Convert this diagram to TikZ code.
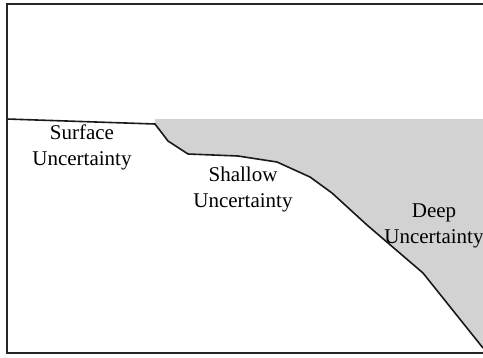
\documentclass[tikz,border=0pt]{standalone}
\usepackage{fontspec}
\setmainfont{Liberation Serif}
\usetikzlibrary{positioning}

\tikzset{
  zone/.style={align=center, font=\fontsize{21}{26}\selectfont, inner sep=0pt},
  frameline/.style={line width=2pt, black!85},
  boundary/.style={line width=1.6pt, black!90, line join=round}
}

\begin{document}
\begin{tikzpicture}[x=1pt, y=-1pt]
  \useasboundingbox (0,0) rectangle (483,357);
  % shaded region above the boundary
  \fill[gray!35] (155,119) -- (155,124) -- (168,141) -- (188,154) -- (238,156)
    -- (277,162) -- (310,177) -- (332,193) -- (367,225) -- (423,273)
    -- (483,348) -- (483,119) -- cycle;
  % boundary between the zones
  \draw[boundary] (7,119) -- (155,124) -- (168,141) -- (188,154) -- (238,156)
    -- (277,162) -- (310,177) -- (332,193) -- (367,225) -- (423,273) -- (483,348);
  % frame
  \draw[frameline] (483,3.5) -- (6.5,3.5) -- (6.5,353) -- (483,353);
  \node[zone] (surface) at (82,147) {Surface\\Uncertainty};
  \node[zone] (shallow) at (243,189) {Shallow\\Uncertainty};
  \node[zone] (deep) at (434,226) {Deep\\Uncertainty};
\end{tikzpicture}
\end{document}
